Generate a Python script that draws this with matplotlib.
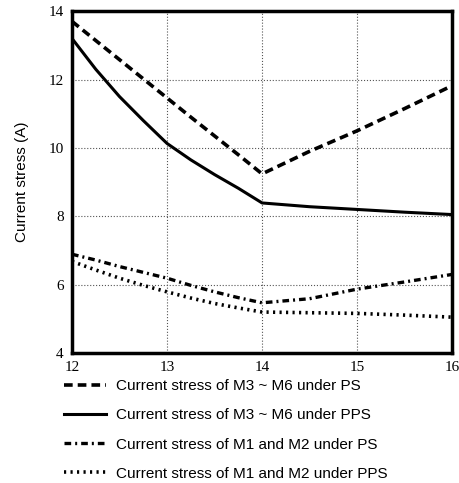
import matplotlib
matplotlib.use("Agg")
import matplotlib.pyplot as plt

# x values (input) and the four current-stress curves
x_vals = [12, 12.25, 12.5, 12.75, 13, 13.25, 13.5, 13.75, 14, 14.5, 15, 15.5, 16]
ps_m36 = [13.7, 13.14, 12.58, 12.02, 11.46, 10.9, 10.35, 9.8, 9.24, 9.9, 10.5, 11.15, 11.82]
pps_m36 = [13.2, 12.3, 11.5, 10.8, 10.13, 9.65, 9.22, 8.82, 8.39, 8.28, 8.2, 8.12, 8.05]
ps_m12 = [6.89, 6.72, 6.53, 6.36, 6.19, 5.98, 5.79, 5.62, 5.47, 5.59, 5.87, 6.08, 6.3]
pps_m12 = [6.68, 6.43, 6.19, 5.98, 5.79, 5.61, 5.45, 5.32, 5.2, 5.18, 5.16, 5.11, 5.05]

labels = [
    "Current stress of M3 ~ M6 under PS",
    "Current stress of M3 ~ M6 under PPS",
    "Current stress of M1 and M2 under PS",
    "Current stress of M1 and M2 under PPS",
]

fig = plt.figure(figsize=(4.6, 4.83), dpi=100)
ax = fig.add_axes([0.1565, 0.269, 0.8265, 0.708])

ax.plot(x_vals, ps_m36, color="black", linewidth=2.6, linestyle=(0, (2.4, 1.4)), label=labels[0])
ax.plot(x_vals, pps_m36, color="black", linewidth=2.2, linestyle="-", label=labels[1])
ax.plot(x_vals, ps_m12, color="black", linewidth=2.4, linestyle=(0, (2.0, 1.2, 0.6, 1.2)), label=labels[2])
ax.plot(x_vals, pps_m12, color="black", linewidth=2.6, linestyle=(0, (0.6, 1.2)), label=labels[3])

ax.set_xlim(12, 16)
ax.set_ylim(4, 14)
ax.set_xticks([12, 13, 14, 15, 16])
ax.set_yticks([4, 6, 8, 10, 12, 14])
ax.tick_params(length=0, pad=6)
for lab in ax.get_xticklabels() + ax.get_yticklabels():
    lab.set_family("Liberation Serif")
    lab.set_fontsize(11)

ax.grid(True, color="#555555", linestyle=":", linewidth=0.8)
for s in ax.spines.values():
    s.set_linewidth(2.5)

ax.set_ylabel("Current stress (A)", fontsize=11, family="Liberation Sans", labelpad=14)

fig.legend(loc="upper left", bbox_to_anchor=(0.125, 0.228), frameon=False,
           prop={"family": "Liberation Sans", "size": 11}, handlelength=2.8,
           handletextpad=0.6, labelspacing=1.0, borderaxespad=0)

plt.savefig("out.png", dpi=100)
